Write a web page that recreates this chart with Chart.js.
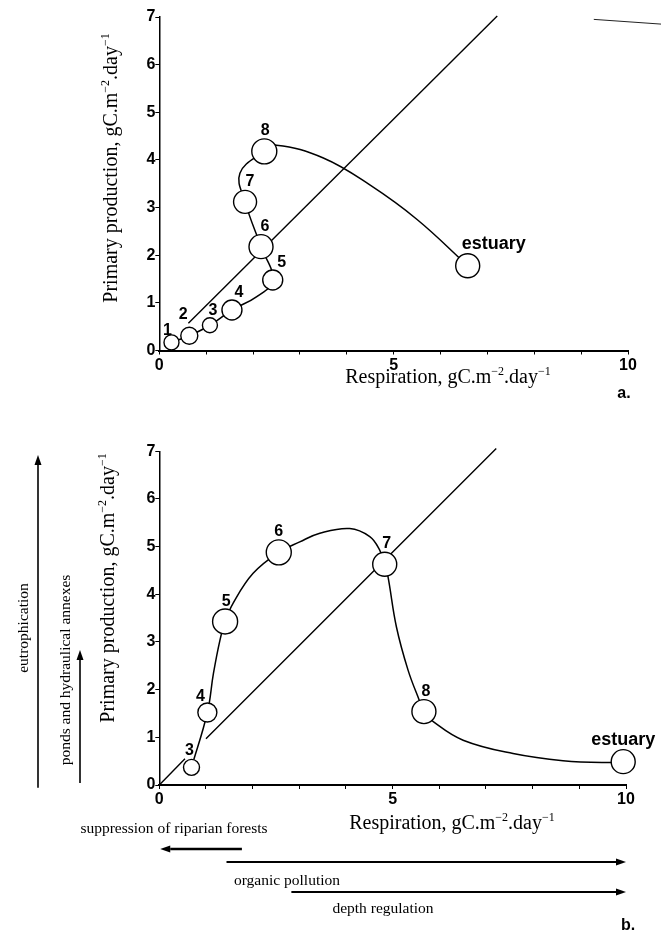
<!DOCTYPE html>
<html>
<head>
<meta charset="utf-8">
<title>Primary production vs respiration</title>
<script src="https://cdn.jsdelivr.net/npm/chart.js@4.4.0/dist/chart.umd.min.js"></script>
<style>
  html, body { margin: 0; padding: 0; background: #fff; }
  #wrap { position: relative; width: 661px; height: 933px; overflow: hidden; }
  canvas { position: absolute; left: 0; }
  #ca { top: 0; }
  #cb { top: 420px; }
</style>
</head>
<body>
<div id="wrap">
  <canvas id="ca" width="661" height="420"></canvas>
  <canvas id="cb" width="661" height="513"></canvas>
</div>
<script>
// ---------- DATA: panel a ----------
const sitesA = ["1", "2", "3", "4", "5", "6", "7", "8", "estuary"];
const respA  = [0.26, 0.64, 1.08, 1.55, 2.42, 2.17, 1.83, 2.24, 6.58];
const prodA  = [0.17, 0.31, 0.53, 0.85, 1.48, 2.18, 3.12, 4.18, 1.78];
// the drawn curve (sites plus a few points between them)
const curveRespA = [0.26, 0.64, 1.08, 1.55, 2.08, 2.42, 2.17, 1.83, 1.72, 2.24, 2.50, 3.50, 4.50, 5.50, 6.58];
const curveProdA = [0.17, 0.31, 0.53, 0.85, 1.13, 1.48, 2.18, 3.12, 3.72, 4.18, 4.31, 4.04, 3.47, 2.75, 1.78];
// P = R line
const diagRespA = [0.62, 7.21];
const diagProdA = [0.57, 7.02];
// stray scan edge at the top right
const edgeRespA = [9.27, 10.72];
const edgeProdA = [6.95, 6.85];

// ---------- DATA: panel b ----------
const sitesB = ["3", "4", "5", "6", "7", "8", "estuary"];
const respB  = [0.69, 1.03, 1.41, 2.56, 4.83, 5.67, 9.94];
const prodB  = [0.37, 1.52, 3.43, 4.88, 4.63, 1.54, 0.49];
const curveRespB = [0.69, 1.03, 1.16, 1.30, 1.41, 1.58, 2.01, 2.56, 3.01, 3.44, 4.08, 4.51, 4.72, 4.83, 4.90, 5.08, 5.33, 5.57, 5.67, 5.87, 6.51, 7.58, 8.65, 9.65, 9.94];
const curveProdB = [0.37, 1.52, 2.34, 3.04, 3.43, 3.81, 4.44, 4.88, 5.10, 5.28, 5.38, 5.21, 4.93, 4.63, 4.37, 3.32, 2.41, 1.78, 1.54, 1.33, 0.94, 0.66, 0.51, 0.47, 0.49];
// P = R line, broken where it passes site 3
const diagRespB = [0, 0.55, 0.80, 1.00, 7.22];
const diagProdB = [0, 0.55, null, 0.97, 7.06];

// pressures (arrows under / beside panel b), in axis units
const pressuresX = ["suppression of riparian forests", "organic pollution", "depth regulation"];
const pressFromX = [1.77, 1.44, 2.83];
const pressToX   = [0.02, 10, 10];
const pressuresY = ["eutrophication", "ponds and hydraulical annexes"];
const pressFromY = [-0.06, 0.04];
const pressToY   = [6.92, 2.83];

// axis ticks
const xLabelled = [0, 5, 10];

// ---------- STYLE ----------
const radiiA = [7.5, 8.5, 7.5, 10, 10, 12, 11.5, 12.5, 12];
const radiiB = [8, 9.5, 12.5, 12.5, 12, 12, 12];
const offA = [[-4, -12], [-6, -21], [3, -15], [7, -17], [9, -17], [4, -20], [5, -20], [1, -21], [26, -22]];
const offB = [[-2, -17], [-7, -16], [1, -20], [0, -21], [2, -21], [2, -20], [0, -22]];
const SERIF = '"Liberation Serif", "Times New Roman", serif';
const SANS = '"Liberation Sans", Arial, sans-serif';
const UNIT = [[", gC.m", 0], ["\u22122", 1], [".day", 0], ["\u22121", 1]];

const pts = (xs, ys) => xs.map((x, i) => ({ x, y: ys[i] }));

function drawRich(ctx, parts, cx, base, size) {
  const f0 = `${size}px ${SERIF}`;
  const f1 = `${Math.round(size * 0.62)}px ${SERIF}`;
  let w = 0;
  parts.forEach(([t, s]) => { ctx.font = s ? f1 : f0; w += ctx.measureText(t).width; });
  let x = cx - w / 2;
  ctx.textAlign = "left";
  ctx.textBaseline = "alphabetic";
  parts.forEach(([t, s]) => {
    ctx.font = s ? f1 : f0;
    ctx.fillText(t, x, s ? base - size * 0.4 : base);
    x += ctx.measureText(t).width;
  });
}

function arrow(ctx, x1, y1, x2, y2, lw, head, half) {
  const a = Math.atan2(y2 - y1, x2 - x1);
  const hx = x2 - head * Math.cos(a), hy = y2 - head * Math.sin(a);
  ctx.strokeStyle = "#000";
  ctx.fillStyle = "#000";
  ctx.lineWidth = lw;
  ctx.beginPath(); ctx.moveTo(x1, y1); ctx.lineTo(hx, hy); ctx.stroke();
  ctx.beginPath();
  ctx.moveTo(x2, y2);
  ctx.lineTo(hx + half * Math.sin(a), hy - half * Math.cos(a));
  ctx.lineTo(hx - half * Math.sin(a), hy + half * Math.cos(a));
  ctx.closePath(); ctx.fill();
}

function scales(ax) {
  const tickFont = { family: SANS, size: 16, weight: "bold" };
  return {
    x: {
      type: "linear", min: 0, max: 10,
      afterFit: (s) => { s.height = ax.xh; },
      ticks: {
        stepSize: 1, autoSkip: false, maxRotation: 0, padding: 1,
        color: "#000", font: tickFont,
        callback: (v) => (xLabelled.includes(v) ? String(v) : "")
      },
      grid: { drawOnChartArea: false, drawTicks: true, tickLength: 4, color: "#000", lineWidth: 1 },
      border: { display: true, color: "#000", width: 2 }
    },
    y: {
      type: "linear", min: 0, max: 7,
      afterFit: (s) => { s.width = ax.yw; },
      ticks: { stepSize: 1, padding: 0, color: "#000", font: tickFont },
      grid: { drawOnChartArea: false, drawTicks: true, tickLength: 4, color: "#000", lineWidth: 1 },
      border: { display: true, color: "#000", width: 1.5 }
    }
  };
}

function datasets(curve, diag, sites, radii, extra) {
  const list = [
    {
      label: "sites", data: sites, order: 0, showLine: false, clip: false,
      pointRadius: radii, pointBackgroundColor: "#fff",
      pointBorderColor: "#000", pointBorderWidth: 1.4
    },
    {
      label: "curve", data: curve, order: 1, showLine: true, tension: 0.4, clip: false,
      borderColor: "#000", borderWidth: 1.5, pointRadius: 0, fill: false
    },
    {
      label: "P=R", data: diag, order: 2, showLine: true, tension: 0, clip: false, spanGaps: false,
      borderColor: "#000", borderWidth: 1.4, pointRadius: 0, fill: false
    }
  ];
  if (extra) list.push(extra);
  return list;
}

function siteLabels(names, offs) {
  return {
    id: "siteLabels",
    afterDatasetsDraw(chart) {
      const ctx = chart.ctx;
      const meta = chart.getDatasetMeta(0);
      ctx.save();
      ctx.fillStyle = "#000";
      ctx.textAlign = "center";
      ctx.textBaseline = "middle";
      meta.data.forEach((p, i) => {
        const big = names[i].length > 2;
        ctx.font = `bold ${big ? 18 : 16}px ${SANS}`;
        ctx.fillText(names[i], p.x + offs[i][0], p.y + offs[i][1]);
      });
      ctx.restore();
    }
  };
}

// ---------- PANEL a ----------
const axA = { xh: 69.5, yw: 159.3 };
new Chart(document.getElementById("ca"), {
  type: "scatter",
  data: {
    datasets: datasets(
      pts(curveRespA, curveProdA), pts(diagRespA, diagProdA), pts(respA, prodA), radiiA,
      { label: "edge", data: pts(edgeRespA, edgeProdA), order: 3, showLine: true, clip: false,
        borderColor: "#222", borderWidth: 1, pointRadius: 0 }
    )
  },
  options: {
    responsive: false, animation: false, events: [],
    layout: { padding: { left: 0, right: 33, top: 17, bottom: 0 } },
    plugins: { legend: { display: false }, tooltip: { enabled: false } },
    scales: scales(axA)
  },
  plugins: [
    siteLabels(sitesA, offA),
    {
      id: "titlesA",
      afterDraw(chart) {
        const ctx = chart.ctx;
        ctx.save();
        ctx.fillStyle = "#000";
        drawRich(ctx, [["Respiration", 0]].concat(UNIT), 448, 383, 20);
        ctx.translate(110, 168);
        ctx.rotate(-Math.PI / 2);
        drawRich(ctx, [["Primary production", 0]].concat(UNIT), 0, 7, 20);
        ctx.restore();
        ctx.save();
        ctx.font = `bold 16px ${SANS}`;
        ctx.fillStyle = "#000";
        ctx.textAlign = "center";
        ctx.textBaseline = "alphabetic";
        ctx.fillText("a.", 624, 398);
        ctx.restore();
      }
    }
  ]
});

// ---------- PANEL b ----------
const axB = { xh: 148, yw: 159.3 };
new Chart(document.getElementById("cb"), {
  type: "scatter",
  data: {
    datasets: datasets(pts(curveRespB, curveProdB), pts(diagRespB, diagProdB), pts(respB, prodB), radiiB)
  },
  options: {
    responsive: false, animation: false, events: [],
    layout: { padding: { left: 0, right: 35, top: 31.3, bottom: 0 } },
    plugins: { legend: { display: false }, tooltip: { enabled: false } },
    scales: scales(axB)
  },
  plugins: [
    siteLabels(sitesB, offB),
    {
      id: "titlesB",
      afterDraw(chart) {
        const ctx = chart.ctx;
        const xs = chart.scales.x, ys = chart.scales.y;
        ctx.save();
        ctx.fillStyle = "#000";
        drawRich(ctx, [["Respiration", 0]].concat(UNIT), 452, 409, 20);
        ctx.translate(107, 168);
        ctx.rotate(-Math.PI / 2);
        drawRich(ctx, [["Primary production", 0]].concat(UNIT), 0, 7, 20);
        ctx.restore();

        // horizontal pressures
        const rowY = [429, 442, 472];
        const txt = [[174, 413], [287, 465], [383, 493]];
        const lw = [2.6, 1.8, 1.8];
        pressuresX.forEach((name, i) => {
          ctx.save();
          arrow(ctx, xs.getPixelForValue(pressFromX[i]), rowY[i], xs.getPixelForValue(pressToX[i]), rowY[i], lw[i], 10, 3.5);
          ctx.font = `15.5px ${SERIF}`;
          ctx.textAlign = "center";
          ctx.textBaseline = "alphabetic";
          ctx.fillText(name, txt[i][0], txt[i][1]);
          ctx.restore();
        });

        // vertical pressures
        const colX = [38, 80];
        const tx = [[28, 208], [70, 250]];
        pressuresY.forEach((name, i) => {
          ctx.save();
          arrow(ctx, colX[i], ys.getPixelForValue(pressFromY[i]), colX[i], ys.getPixelForValue(pressToY[i]), 1.6, 10, 3.5);
          ctx.translate(tx[i][0], tx[i][1]);
          ctx.rotate(-Math.PI / 2);
          ctx.font = `15.5px ${SERIF}`;
          ctx.textAlign = "center";
          ctx.textBaseline = "alphabetic";
          ctx.fillText(name, 0, 0);
          ctx.restore();
        });

        ctx.save();
        ctx.font = `bold 16px ${SANS}`;
        ctx.fillStyle = "#000";
        ctx.textAlign = "center";
        ctx.textBaseline = "alphabetic";
        ctx.fillText("b.", 628, 510);
        ctx.restore();
      }
    }
  ]
});
</script>
</body>
</html>
